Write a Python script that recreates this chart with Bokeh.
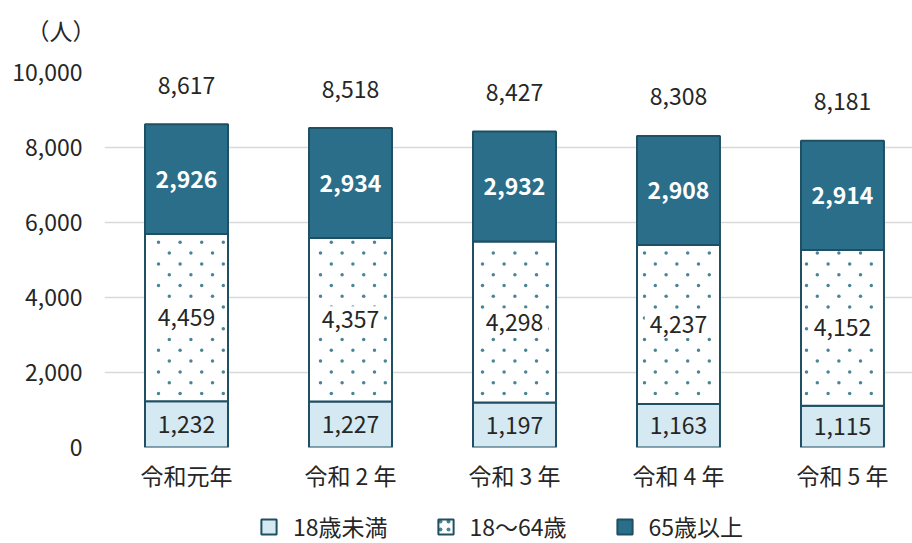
import math
from bokeh.plotting import figure
from bokeh.layouts import column
from bokeh.models import (ColumnDataSource, LabelSet, Legend, LegendItem, FixedTicker,
                          Title, Range1d, NumeralTickFormatter)
from bokeh.core.properties import value
from bokeh.embed import file_html
from bokeh.resources import INLINE

categories = ["令和元年", "令和 2 年", "令和 3 年", "令和 4 年", "令和 5 年"]
under18 = [1232, 1227, 1197, 1163, 1115]
age18_64 = [4459, 4357, 4298, 4237, 4152]
over65 = [2926, 2934, 2932, 2908, 2914]
totals = [8617, 8518, 8427, 8308, 8181]
series_names = ["18歳未満", "18～64歳", "65歳以上"]
y_ticks = [0, 2000, 4000, 6000, 8000, 10000]

FONT = "Noto Sans CJK JP"
FS = "23px"
TXT = "#262626"
DARK = "#2a6e8a"
LIGHT = "#d4e9f2"
EDGE = "#1f4f63"
DOT = "#4a8595"

X0, X1 = -0.5, 4.427
Y0, Y1 = 0, 10000
FRAME_W, FRAME_H = 808, 375
W = 0.506

xs = list(range(len(categories)))
b1 = under18
b2 = [a + b for a, b in zip(under18, age18_64)]
b3 = [a + b for a, b in zip(b2, over65)]

src = ColumnDataSource(dict(
    x=xs, z=[0] * len(xs), b1=b1, b2=b2, b3=b3,
    m0=[v / 2 for v in under18],
    m1=[a + v / 2 for a, v in zip(b1, age18_64)],
    m2=[a + v / 2 for a, v in zip(b2, over65)],
    l0=[f"{v:,}" for v in under18],
    l1=[f"{v:,}" for v in age18_64],
    l2=[f"{v:,}" for v in over65],
    tot=totals, lt=[f"{v:,}" for v in totals],
))

# dotted fill texture of the middle segments (staggered lattice, pixel spacing)
ux = (X1 - X0) / FRAME_W
uy = (Y1 - Y0) / FRAME_H
DX, DY, M = 21.6, 10.8, 3
dot_x, dot_y = [], []
for i, lo, hi in zip(xs, b1, b2):
    left, right = i - W / 2 + M * ux, i + W / 2 - M * ux
    j = math.ceil((lo + M * uy) / (DY * uy))
    while j * DY * uy <= hi - M * uy:
        off = (DX / 2) * ux if j % 2 else 0.0
        k = math.ceil((left - X0 - off) / (DX * ux))
        while X0 + off + k * DX * ux <= right:
            dot_x.append(X0 + off + k * DX * ux)
            dot_y.append(j * DY * uy)
            k += 1
        j += 1
dots = ColumnDataSource(dict(x=dot_x, y=dot_y))

p = figure(width=912, height=516, output_backend="svg", toolbar_location=None,
           x_range=Range1d(X0, X1), y_range=Range1d(Y0, Y1),
           min_border_left=104, min_border_top=88, min_border_right=0,
           min_border_bottom=53)
p.margin = (-16, 0, 0, 0)
p.outline_line_color = None

bar_style = dict(width=W, source=src, line_color=EDGE, line_width=2)
r0 = p.vbar(x="x", bottom="z", top="b1", fill_color=LIGHT, **bar_style)
r1 = p.vbar(x="x", bottom="b1", top="b2", fill_color="white", **bar_style)
p.scatter(x="x", y="y", source=dots, marker="circle", size=3.5,
          fill_color=DOT, line_color=None)
r2 = p.vbar(x="x", bottom="b2", top="b3", fill_color=DARK, **bar_style)

lab = dict(source=src, x="x", text_align="center", text_baseline="middle",
           text_font=value(FONT), text_font_size=value(FS))
p.add_layout(LabelSet(y="m0", text="l0", text_color=TXT, **lab))
p.add_layout(LabelSet(y="m1", text="l1", text_color=TXT, background_fill_color="white",
                      border_line_color="white", border_line_width=10, **lab))
p.add_layout(LabelSet(y="m2", text="l2", text_color="white", text_font_style="bold", **lab))
p.add_layout(LabelSet(y="tot", text="lt", text_color=TXT, y_offset=39, **lab))

p.add_layout(Title(text="（人）", align="left", offset=-78, standoff=52,
                   text_font=FONT, text_font_size=FS, text_font_style="normal",
                   text_color=TXT), "above")

p.xgrid.grid_line_color = None
p.ygrid.grid_line_color = "#d9d9d9"
p.ygrid.grid_line_width = 1.5
p.yaxis.ticker = FixedTicker(ticks=y_ticks)
p.yaxis.formatter = NumeralTickFormatter(format="0,0")
p.xaxis.ticker = FixedTicker(ticks=xs)
p.xaxis.major_label_overrides = {i: c for i, c in enumerate(categories)}
for ax in (p.xaxis, p.yaxis):
    ax.axis_line_color = None
    ax.major_tick_line_color = None
    ax.minor_tick_line_color = None
    ax.major_tick_out = 0
    ax.major_tick_in = 0
    ax.major_label_text_font = FONT
    ax.major_label_text_font_size = FS
    ax.major_label_text_color = TXT
p.yaxis.major_label_standoff = 22
p.xaxis.major_label_standoff = 10

# legend strip (its frame is aligned with the chart frame by the column layout)
lg = figure(width=912, height=43, output_backend="svg", toolbar_location=None,
            x_range=Range1d(100, 101), y_range=Range1d(100, 101),
            x_axis_type=None, y_axis_type=None,
            min_border_left=0, min_border_right=0, min_border_top=0, min_border_bottom=0)
lg.outline_line_color = None
lg.xgrid.grid_line_color = None
lg.ygrid.grid_line_color = None
g0 = lg.vbar(x="x", bottom="z", top="b1", fill_color=LIGHT, **bar_style)
g1 = lg.vbar(x="x", bottom="b1", top="b2", fill_color="white", hatch_pattern="dot",
             hatch_color=DOT, hatch_scale=8, hatch_weight=1, **bar_style)
g2 = lg.vbar(x="x", bottom="b2", top="b3", fill_color=DARK, **bar_style)
for g in (g0, g1, g2):
    g.visible = False
legend = Legend(items=[LegendItem(label=series_names[0], renderers=[g0]),
                       LegendItem(label=series_names[1], renderers=[g1]),
                       LegendItem(label=series_names[2], renderers=[g2])],
                orientation="horizontal", location=(155, 0),
                label_text_font=FONT, label_text_font_size=FS,
                label_text_color=TXT, glyph_width=19, glyph_height=19,
                spacing=48, label_standoff=15, border_line_color=None,
                margin=0, padding=0, background_fill_alpha=0,
                inactive_fill_alpha=0, click_policy="none")
lg.add_layout(legend, "center")

layout = column(p, lg, spacing=0)
open("out.html", "w").write(file_html(layout, INLINE))
